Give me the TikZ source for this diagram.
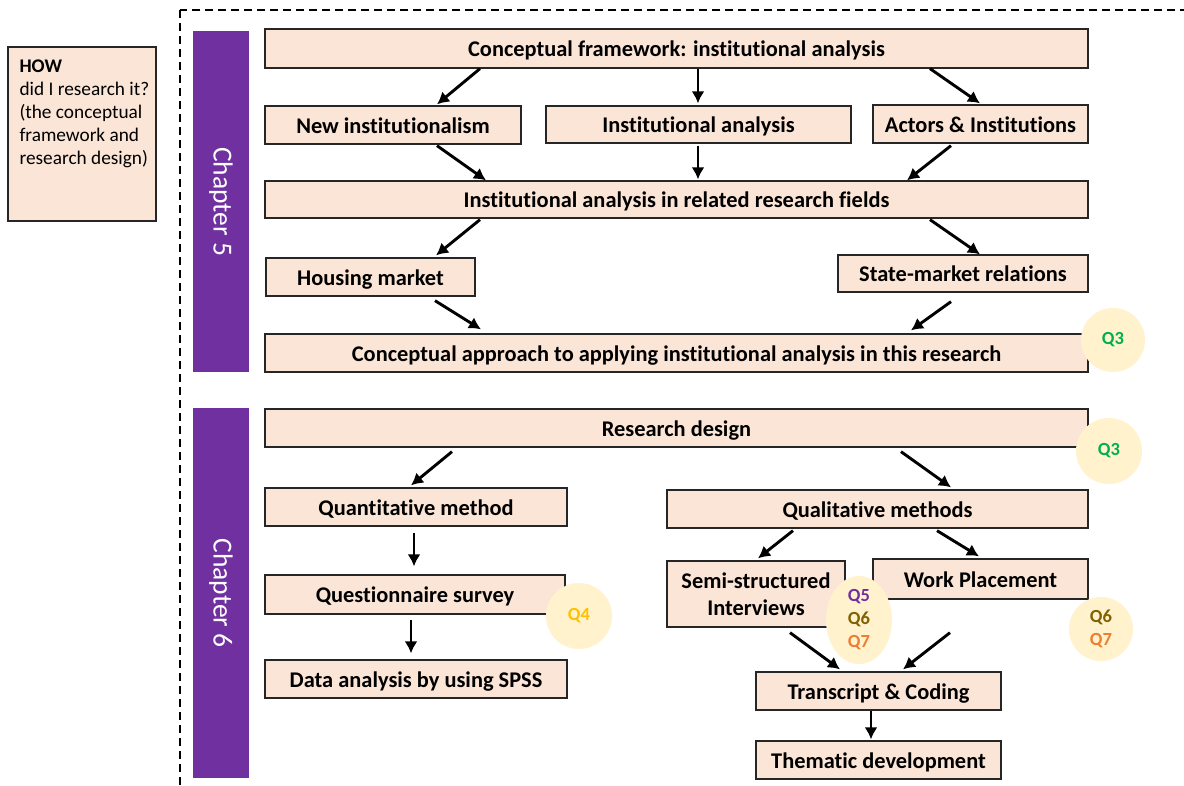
\documentclass[tikz,border=0pt]{standalone}
\usepackage{fontspec}
\setmainfont{Carlito}[Ligatures=NoCommon]
\usetikzlibrary{arrows.meta,shapes.geometric}

\definecolor{boxfill}{HTML}{FBE5D6}
\definecolor{chapfill}{HTML}{7030A0}
\definecolor{qfill}{HTML}{FFF2CC}
\definecolor{qgreen}{HTML}{00B050}
\definecolor{qgold}{HTML}{FFC000}
\definecolor{qpurple}{HTML}{7030A0}
\definecolor{qolive}{HTML}{806000}
\definecolor{qorange}{HTML}{ED7D31}

\tikzset{
  stepbox/.style={draw=black!85, line width=1.3pt, fill=boxfill, inner sep=0pt,
    font=\fontsize{22.4}{27}\selectfont\bfseries, align=center},
  oneline/.style={stepbox, text height=21.5pt, text depth=5pt},
  chapbar/.style={fill=chapfill, text=white, inner sep=0pt, rotate=-90,
    minimum height=56pt, font=\fontsize{27.5}{30}\selectfont},
  qmark/.style={fill=qfill, inner sep=0pt, align=center,
    font=\fontsize{18.5}{23}\selectfont\bfseries},
  arr/.style={line width=2.9pt, -{Latex[length=12pt,width=13pt]}},
  frame/.style={line width=1.2pt, dash pattern=on 8pt off 5pt},
}

\begin{document}
\begin{tikzpicture}[x=1pt, y=-1pt]
\useasboundingbox[fill=white] (0,0) rectangle (1184,785);
\clip (0,0) rectangle (1184,785);

% outer dashed frame of the chapters area
\draw[frame] (180,10) rectangle (1210,810);

% left-hand caption box
\node[draw=black!85, line width=1.3pt, fill=boxfill, minimum width=148pt,
  minimum height=174pt, inner sep=0pt] (how) at (82,134) {};
\node[anchor=north west, inner sep=0pt, align=left,
  font=\fontsize{19.3}{23}\selectfont] (howtext)
  at ([shift={(12,13)}]how.north west)
  {\textbf{HOW}\\did I research it?\\(the conceptual\\framework and\\research design)};

% chapter bars
\node[chapbar, minimum width=341pt] (ch5) at (221,201.5) {Chapter 5};
\node[chapbar, minimum width=370pt] (ch6) at (221,593) {Chapter 6};

% Chapter 5 boxes
\node[oneline, minimum width=823pt, minimum height=39pt] (cf) at (676.5,48.5) {Conceptual framework: institutional analysis};
\node[oneline, minimum width=256pt, minimum height=38pt] (ni) at (393,125) {New institutionalism};
\node[oneline, minimum width=305pt, minimum height=37pt] (ia) at (698.5,124.5) {Institutional analysis};
\node[oneline, minimum width=215pt, minimum height=38pt] (ai) at (980.5,124) {Actors \& Institutions};
\node[oneline, minimum width=823pt, minimum height=37pt] (rf) at (676.5,199.5) {Institutional analysis in related research fields};
\node[oneline, minimum width=209pt, minimum height=38pt] (hm) at (370.5,277) {Housing market};
\node[oneline, minimum width=250pt, minimum height=37pt] (sm) at (963,273.5) {State-market relations};
\node[oneline, minimum width=823pt, minimum height=38pt] (ca) at (676.5,353) {Conceptual approach to applying institutional analysis in this research};

% Chapter 6 boxes
\node[oneline, minimum width=823pt, minimum height=38pt] (rd) at (676.5,428) {Research design};
\node[oneline, minimum width=302pt, minimum height=38pt] (qm) at (416,507) {Quantitative method};
\node[oneline, minimum width=421pt, minimum height=38pt] (ql) at (877.5,509) {Qualitative methods};
\node[oneline, minimum width=300pt, minimum height=39pt] (qs) at (415,594.5) {Questionnaire survey};
\node[oneline, minimum width=302pt, minimum height=38pt] (da) at (416,679) {Data analysis by using SPSS};
\node[stepbox, minimum width=178pt, minimum height=66pt] (si) at (756,594) {Semi-structured\\Interviews};
\node[oneline, minimum width=215pt, minimum height=40pt] (wp) at (980.5,579) {Work Placement};
\node[oneline, minimum width=245pt, minimum height=38pt] (tc) at (878.5,691) {Transcript \& Coding};
\node[oneline, minimum width=245pt, minimum height=38pt] (td) at (878.5,760) {Thematic development};

% research-question markers
\node[qmark, circle, minimum size=64pt, text=qgreen] (q3a) at (1113,340) {Q3};
\node[qmark, circle, minimum size=66pt, text=qgreen] (q3b) at (1109,451) {Q3};
\node[qmark, circle, minimum size=66pt, text=qgold] (q4) at (579,616) {Q4};
\node[qmark, ellipse, minimum width=66pt, minimum height=88pt] (q567) at (859,620)
  {\textcolor{qpurple}{Q5}\\\textcolor{qolive}{Q6}\\\textcolor{qorange}{Q7}};
\node[qmark, circle, minimum size=64pt] (q67) at (1101,629)
  {\textcolor{qolive}{Q6}\\\textcolor{qorange}{Q7}};

% Chapter 5 flow
\draw[arr] ([shift={(-196.5,0)}]cf.south) -- ([shift={(44,-1)}]ni.north);
\draw[arr] ([shift={(21.5,0)}]cf.south) -- ([shift={(-0.5,-2)}]ia.north);
\draw[arr] ([shift={(253.5,0)}]cf.south) -- ([shift={(-0.5,-1)}]ai.north);
\draw[arr] ([shift={(44,1)}]ni.south) -- ([shift={(-190.5,0)}]rf.north);
\draw[arr] ([shift={(-0.5,2)}]ia.south) -- ([shift={(21.5,-1)}]rf.north);
\draw[arr] ([shift={(-29.5,2)}]ai.south) -- ([shift={(230.5,0)}]rf.north);
\draw[arr] ([shift={(-196.5,1)}]rf.south) -- ([shift={(65.5,-2)}]hm.north);
\draw[arr] ([shift={(253.5,1)}]rf.south) -- ([shift={(17,0)}]sm.north);
\draw[arr] ([shift={(64.5,4)}]hm.south) -- ([shift={(-195.5,-4)}]ca.north);
\draw[arr] ([shift={(-12,9)}]sm.south) -- ([shift={(234.5,-3)}]ca.north);

% Chapter 6 flow
\draw[arr] ([shift={(-224.5,4)}]rd.south) -- ([shift={(-5,-2)}]qm.north);
\draw[arr] ([shift={(224.5,4)}]rd.south) -- ([shift={(73.5,-2)}]ql.north);
\draw[arr] ([shift={(-2,6)}]qm.south) -- ([shift={(-1,-8)}]qs.north);
\draw[arr] ([shift={(-4,5)}]qs.south) -- ([shift={(-5,-6)}]da.north);
\draw[arr] ([shift={(-84.5,2)}]ql.south) -- ([shift={(2,-2)}]si.north);
\draw[arr] ([shift={(59.5,2)}]ql.south) -- ([shift={(-1.5,-2)}]wp.north);
\draw[arr] ([shift={(34,5)}]si.south) -- ([shift={(-38.5,-2)}]tc.north);
\draw[arr] ([shift={(-30.5,33)}]wp.south) -- ([shift={(24.5,-2)}]tc.north);
\draw[arr] ([shift={(-7.5,0)}]tc.south) -- ([shift={(-7.5,-1)}]td.north);
\end{tikzpicture}
\end{document}
